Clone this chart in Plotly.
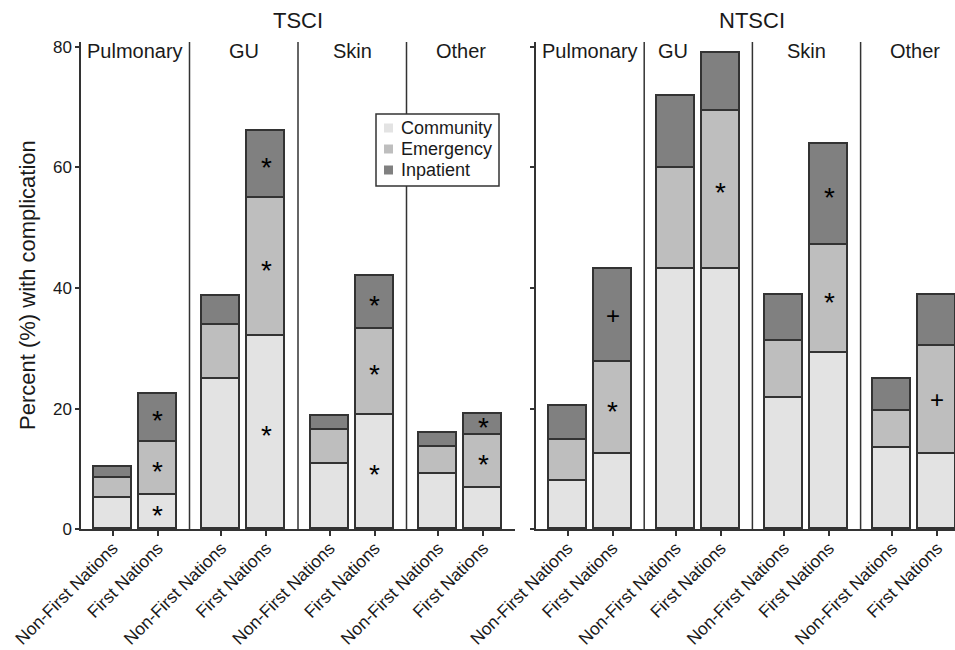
import plotly.graph_objects as go

# ---------------- data ----------------
groups = ["Pulmonary", "GU", "Skin", "Other"]
cohorts = ["Non-First Nations", "First Nations"]
segments = ["Community", "Emergency", "Inpatient"]
panels = ["TSCI", "NTSCI"]

# order: Pulm NFN, Pulm FN, GU NFN, GU FN, Skin NFN, Skin FN, Other NFN, Other FN
tsci_community = [5.2, 5.7, 24.9, 32.0, 10.8, 19.0, 9.2, 6.9]
tsci_emergency = [3.3, 8.8, 9.0, 22.9, 5.7, 14.2, 4.4, 8.7]
tsci_inpatient = [1.9, 8.0, 4.8, 11.1, 2.2, 8.8, 2.4, 3.5]

ntsci_community = [8.0, 12.5, 43.1, 43.1, 21.7, 29.2, 13.5, 12.5]
ntsci_emergency = [6.8, 15.2, 16.8, 26.3, 9.5, 17.9, 6.1, 17.9]
ntsci_inpatient = [5.7, 15.4, 11.9, 9.6, 7.7, 16.7, 5.3, 8.5]

# significance markers per segment
tsci_sig_community = ["", "*", "", "*", "", "*", "", ""]
tsci_sig_emergency = ["", "*", "", "*", "", "*", "", "*"]
tsci_sig_inpatient = ["", "*", "", "*", "", "*", "", "*"]
ntsci_sig_community = ["", "", "", "", "", "", "", ""]
ntsci_sig_emergency = ["", "*", "", "*", "", "*", "", "+"]
ntsci_sig_inpatient = ["", "+", "", "", "", "*", "", ""]

y_ticks = [0, 20, 40, 60, 80]

# ---------------- styling ----------------
colors = {"Community": "#e3e3e3", "Emergency": "#bebebe", "Inpatient": "#808080"}
edge = "#333333"
FONT = "Liberation Sans, Arial, sans-serif"
W, H = 955, 650

panel_values = {
    "TSCI": [tsci_community, tsci_emergency, tsci_inpatient],
    "NTSCI": [ntsci_community, ntsci_emergency, ntsci_inpatient],
}
panel_sig = {
    "TSCI": [tsci_sig_community, tsci_sig_emergency, tsci_sig_inpatient],
    "NTSCI": [ntsci_sig_community, ntsci_sig_emergency, ntsci_sig_inpatient],
}

offset = 0.208
bar_w = 0.35
positions = [g + 0.5 + o for g in range(len(groups)) for o in (-offset, offset)]
labels = [c for g in groups for c in cohorts]

fig = go.Figure()
annotations = []
shapes = []

axis_ids = {"TSCI": ("x", "y"), "NTSCI": ("x2", "y2")}

for p in panels:
    xa, ya = axis_ids[p]
    base = [0.0] * len(positions)
    for si, seg in enumerate(segments):
        vals = panel_values[p][si]
        fig.add_trace(go.Bar(
            x=positions, y=vals, width=bar_w, xaxis=xa, yaxis=ya,
            marker=dict(color=colors[seg], line=dict(color=edge, width=1.6)),
            showlegend=False, name=seg, hoverinfo="y",
        ))
        for i, s in enumerate(panel_sig[p][si]):
            if s:
                annotations.append(dict(
                    x=positions[i], y=base[i] + vals[i] / 2, xref=xa, yref=ya,
                    xanchor="center", yanchor="middle",
                    text=s, showarrow=False,
                    font=dict(size=28 if s == "*" else 24, color="#000", family=FONT),
                    yshift=-3 if s == "*" else 0,
                ))
        base = [b + v for b, v in zip(base, vals)]
    for g in range(1, len(groups)):
        shapes.append(dict(type="line", xref=xa, yref=ya + " domain",
                           x0=g, x1=g, y0=0, y1=1,
                           line=dict(color=edge, width=1.5)))

# layout geometry (pixels)
y_top, y_bot = 42, 529.3
left0, left1 = 81, 515
right0 = 536
grp_px = 108.2

ydom = [1 - y_bot / H, 1 - y_top / H]
yrange = [0, 80 * (y_bot - y_top) / (y_bot - 46.7)]

# legend drawn as a boxed key (box, swatches, labels)
leg_x0, leg_x1, leg_y0, leg_y1 = 376, 499, 114, 186
shapes.append(dict(type="rect", xref="paper", yref="paper", layer="above",
                   x0=leg_x0 / W, x1=leg_x1 / W, y0=1 - leg_y1 / H, y1=1 - leg_y0 / H,
                   fillcolor="white", line=dict(color=edge, width=1.5)))
for k, seg in enumerate(segments):
    cy = 128 + 21 * k
    shapes.append(dict(type="rect", xref="paper", yref="paper", layer="above",
                       x0=384 / W, x1=393 / W, y0=1 - (cy + 4.5) / H, y1=1 - (cy - 4.5) / H,
                       fillcolor=colors[seg], line=dict(width=0)))
    annotations.append(dict(x=399 / W, y=1 - cy / H, xref="paper", yref="paper",
                            xanchor="left", yanchor="middle", text=seg,
                            showarrow=False, font=dict(size=18, color="#1a1a1a")))

axis_common = dict(showline=True, linecolor=edge, linewidth=1.5, showgrid=False,
                   zeroline=False, ticks="outside", tickcolor=edge,
                   tickwidth=1.5, automargin=False)

fig.update_layout(
    width=W, height=H, margin=dict(l=0, r=0, t=0, b=0, autoexpand=False),
    paper_bgcolor="white", plot_bgcolor="white",
    barmode="stack", bargap=0, showlegend=False,
    font=dict(family=FONT, color="#1a1a1a"),
    xaxis=dict(domain=[left0 / W, left1 / W], range=[0, 4], tickvals=positions,
               ticktext=labels, tickangle=-45, tickfont=dict(size=17.5), ticklen=5,
               ticklabelstandoff=-5, **axis_common),
    yaxis=dict(domain=ydom, range=yrange, tickvals=y_ticks, tickfont=dict(size=17),
               ticklen=4, **axis_common),
    xaxis2=dict(domain=[right0 / W, 1.0], range=[0, (W - right0) / grp_px], anchor="y2",
                tickvals=positions, ticktext=labels, tickangle=-45,
                tickfont=dict(size=17.5), ticklen=5, ticklabelstandoff=-5,
                **axis_common),
    yaxis2=dict(domain=ydom, range=yrange, anchor="x2", tickvals=y_ticks,
                showticklabels=False, ticklen=4, **axis_common),
    shapes=shapes,
)

# panel titles
left_center = (left0 + left1) / 2
right_center = right0 + 2 * grp_px
for txt, cx in (("TSCI", left_center), ("NTSCI", right_center)):
    annotations.append(dict(x=cx / W, y=1 - 20 / H, xref="paper", yref="paper",
                            xanchor="center", yanchor="middle",
                            text=txt, showarrow=False, font=dict(size=22)))

# group labels
for p in panels:
    xa, _ = axis_ids[p]
    for g, name in enumerate(groups):
        gx = g + 0.5
        if p == "NTSCI" and name == "GU":
            gx = g + 0.27
        annotations.append(dict(x=gx, y=1 - 51 / H, xref=xa, yref="paper", text=name,
                                xanchor="center", yanchor="middle",
                                showarrow=False, font=dict(size=20)))

# y-axis title
annotations.append(dict(x=27 / W, y=1 - 285 / H, xref="paper", yref="paper",
                        xanchor="center", yanchor="middle",
                        text="Percent (%) with complication", textangle=-90,
                        showarrow=False, font=dict(size=22)))

fig.update_layout(annotations=annotations)
fig.write_html("out.html", config={"displayModeBar": False},
               post_script="document.body.style.margin='0';")
